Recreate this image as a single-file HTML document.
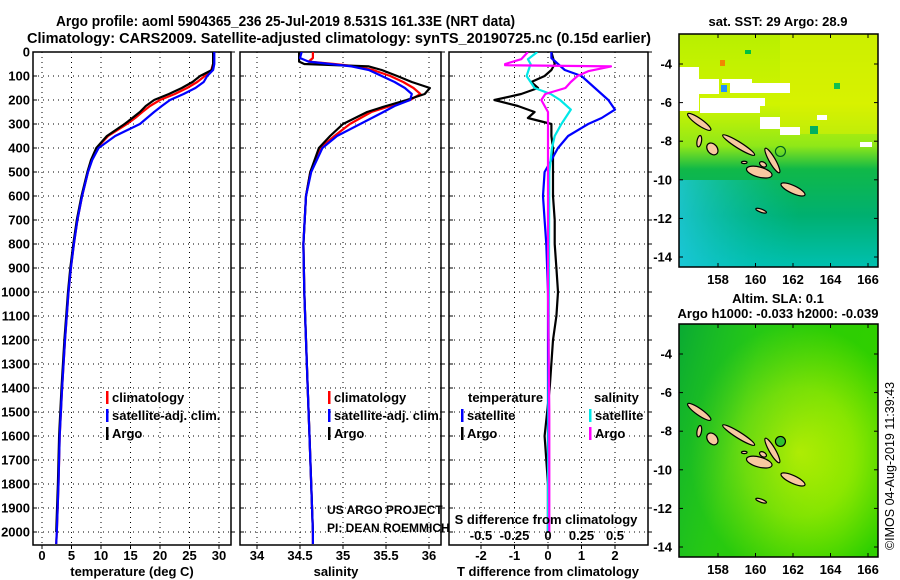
<!DOCTYPE html>
<html><head><meta charset="utf-8">
<style>
html,body{margin:0;padding:0;background:#fff;}
svg{display:block;font-family:"Liberation Sans",Arial,sans-serif;}
.t{font-weight:bold;font-size:14.5px;}
.lab{font-weight:bold;font-size:13px;}
</style></head>
<body>
<svg id="chart" width="900" height="580" viewBox="0 0 900 580" xmlns="http://www.w3.org/2000/svg">
<defs>
<linearGradient id="sstg" x1="0" y1="0" x2="0" y2="1">
<stop offset="0" stop-color="#b8f000"/><stop offset="0.3" stop-color="#d0f400"/><stop offset="0.48" stop-color="#90e818"/>
<stop offset="0.58" stop-color="#10b848"/><stop offset="0.78" stop-color="#00b070"/><stop offset="1" stop-color="#00c0b0"/>
</linearGradient>
<linearGradient id="sstcyan" x1="1" y1="0" x2="0" y2="0">
<stop offset="0" stop-color="#00c0b0" stop-opacity="0"/><stop offset="1" stop-color="#20c8e0" stop-opacity="0.8"/>
</linearGradient>
<radialGradient id="slag" cx="0.6" cy="0.55" r="0.55">
<stop offset="0" stop-color="#c8f400"/><stop offset="0.5" stop-color="#8ee800"/><stop offset="1" stop-color="#30d000"/>
</radialGradient>
<linearGradient id="sladark" x1="0" y1="0" x2="1" y2="0.3">
<stop offset="0" stop-color="#00a040" stop-opacity="0.8"/><stop offset="0.4" stop-color="#10b840" stop-opacity="0.3"/><stop offset="1" stop-color="#20c000" stop-opacity="0"/>
</linearGradient>
<clipPath id="clip1"><rect x="33" y="52" width="198" height="493"/></clipPath>
<clipPath id="clip2"><rect x="240" y="52" width="201" height="493"/></clipPath>
<clipPath id="clip3"><rect x="449" y="52" width="199" height="493"/></clipPath>
<clipPath id="clipm1"><rect x="679" y="34" width="199" height="233"/></clipPath>
<clipPath id="clipm2"><rect x="679" y="324" width="199" height="233"/></clipPath>
</defs>
<text class="t" x="56" y="26" textLength="459" lengthAdjust="spacingAndGlyphs">Argo profile: aoml 5904365_236 25-Jul-2019 8.531S 161.33E (NRT data)</text>
<text class="t" x="27" y="43" textLength="624" lengthAdjust="spacingAndGlyphs">Climatology: CARS2009. Satellite-adjusted climatology: synTS_20190725.nc (0.15d earlier)</text>
<g id="g"></g>
</svg>
<script>
// ---- data ----
const tDepth = [0,50,75,100,125,150,175,200,225,250,275,300,350,400,450,500,600,700,800,900,1000,1200,1400,1600,1800,2000,2050];
const tClim = [29,29,28.7,27.6,26.3,24.6,22.5,20,18.3,17,15.8,14.4,11.2,9.3,8.4,7.8,6.8,6,5.4,4.9,4.5,3.9,3.4,3.0,2.8,2.5,2.4];
const tSat  = [29.2,29.2,29,28,27.4,26,24,21.7,20.3,19,17.8,16.6,12.4,9.6,8.5,7.8,6.8,6,5.4,4.9,4.5,3.9,3.4,3.0,2.8,2.5,2.4];
const tArgoDepth = [0,50,75,100,125,150,175,200,225,250,275,300,350,400,450,500,600,700,800,900,1000,1200,1400,1600,1800,2000];
const tArgo = [29,29,28.8,26.8,25.5,23.7,21.5,19,17.6,16.6,15.3,14,11,9.2,8.3,7.7,6.7,5.9,5.3,4.8,4.4,3.8,3.3,2.9,2.7,2.4];
const sDepth = [0,25,40,50,60,75,100,125,150,175,200,225,250,300,350,400,500,600,800,1000,1200,1400,1600,1800,2000,2050];
const sClim = [34.65,34.65,34.6,34.9,35.15,35.35,35.55,35.7,35.82,35.9,35.78,35.55,35.33,35.08,34.9,34.74,34.62,34.57,34.54,34.55,34.57,34.59,34.61,34.63,34.65,34.65];
const sSat  = [34.52,34.5,34.6,34.85,35.1,35.3,35.45,35.6,35.72,35.8,35.78,35.6,35.47,35.2,34.93,34.76,34.63,34.57,34.54,34.55,34.57,34.59,34.61,34.63,34.65,34.65];
const sArgoDepth = [0,25,40,50,60,75,100,125,150,175,200,225,250,300,350,400,500,600,800,1000,1200,1400,1600,1800,2000];
const sArgo = [34.49,34.49,34.49,34.55,35.3,35.45,35.63,35.8,36.01,35.95,35.74,35.5,35.28,35.0,34.85,34.72,34.62,34.57,34.54,34.55,34.57,34.59,34.61,34.63,34.65];
const dtSatDepth = [0,25,50,75,100,125,150,175,200,240,275,300,350,400,450,500,600,700,800,1000,1500,2000];
const dtSat = [0.1,0.1,0.3,0.5,1.0,1.2,1.4,1.6,1.8,2.0,1.6,1.2,0.6,0.3,0.1,-0.1,-0.15,-0.1,-0.05,0,0,0];
const dtArgoDepth = [0,50,75,100,125,150,175,200,225,250,275,300,350,400,500,600,700,800,900,1000,1100,1200,1400,1600,1800,2000];
const dtArgo = [0.1,0.2,0.1,-0.1,-0.5,-0.3,-0.8,-1.6,-0.9,-0.4,-0.6,0.1,0.1,0.15,0.15,0.15,0.2,0.2,0.25,0.3,0.25,0.15,0.05,-0.1,0.0,0.0];
const dsArgoDepth = [0,30,50,55,60,80,100,125,150,175,200,250,300,400,600,1000,1500,2000];
const dsArgo = [-0.15,-0.2,-0.32,-0.32,0.47,0.3,0.22,0.17,0.13,-0.02,-0.05,0,0,0,0,0,0.01,0.01];
const dsSatDepth = [0,30,50,100,150,175,200,240,300,350,400,500,2000];
const dsSat = [-0.08,-0.15,-0.13,-0.16,-0.1,0.02,0.09,0.17,0.1,0.05,0.03,0.01,0];
const depthTicks = [0,100,200,300,400,500,600,700,800,900,1000,1100,1200,1300,1400,1500,1600,1700,1800,1900,2000];
const tempTicks = [0,5,10,15,20,25,30];
const salTicks = [34,34.5,35,35.5,36];
const salTickLabels = ["34","34.5","35","35.5","36"];
const dtTicks = [-2,-1,0,1,2];
const dsTicks = [-0.5,-0.25,0,0.25,0.5];
const dsTickLabels = ["-0.5","-0.25","0","0.25","0.5"];
const lonTicks = [158,160,162,164,166];
const latTicks = [-4,-6,-8,-10,-12,-14];

// ---- scales ----
const NS="http://www.w3.org/2000/svg";
const g=document.getElementById('g');
const yD=d=>52+d*0.24;
const xT=v=>42+v*5.9;
const xS=v=>257+(v-34)*86;
const xDT=v=>548+v*33.5;
const xDS=v=>548+v*134;
function mk(tag,attrs,parent){const e=document.createElementNS(NS,tag);for(const k in attrs)e.setAttribute(k,attrs[k]);(parent||g).appendChild(e);return e;}
function txt(x,y,s,cls,anchor,parent){const e=mk('text',{x:x,y:y,class:cls||'lab','text-anchor':anchor||'middle'},parent);e.textContent=s;return e;}
function line(xs,ds,xf,color,name,clip){
  let d='';for(let i=0;i<xs.length;i++){d+=(i?'L':'M')+xf(xs[i]).toFixed(1)+','+yD(ds[i]).toFixed(1);}
  const p=mk('path',{d:d,fill:'none',stroke:color,'stroke-width':2.2,'stroke-linejoin':'round','clip-path':'url(#'+clip+')'});
  
  
}
const panels=[{x0:33,x1:231,clip:'clip1'},{x0:240,x1:441,clip:'clip2'},{x0:449,x1:648,clip:'clip3'}];
panels.forEach((p,i)=>{
  const fr=mk('rect',{x:p.x0,y:52,width:p.x1-p.x0,height:493,fill:'#fff',stroke:'#000','stroke-width':1.5});
  
  
  depthTicks.forEach(d=>{
    const gl=mk('line',{x1:p.x0,x2:p.x1,y1:yD(d),y2:yD(d),stroke:'#000','stroke-width':1,'stroke-dasharray':'1,4'});
    
    
    mk('line',{x1:p.x0,x2:p.x0+4,y1:yD(d),y2:yD(d),stroke:'#000'});
    mk('line',{x1:p.x1,x2:p.x1+4,y1:yD(d),y2:yD(d),stroke:'#000'});
  });
});
depthTicks.forEach(d=>{
  const t=txt(30,yD(d)+4.5,String(d),'lab','end');
  
  
});
function xaxis(ticks,labels,xf,x0,x1,title,tx){
  ticks.forEach((v,i)=>{
    const gl=mk('line',{x1:xf(v),x2:xf(v),y1:52,y2:545,stroke:'#000','stroke-width':1,'stroke-dasharray':'1,4'});
    
    
    mk('line',{x1:xf(v),x2:xf(v),y1:545,y2:549,stroke:'#000'});
    const t=txt(xf(v),560,labels[i]);
    
    
  });
  const tt=txt(tx,576,title);
  
  
}
xaxis(tempTicks,tempTicks.map(String),xT,33,231,'temperature (deg C)',132);
xaxis(salTicks,salTickLabels,xS,240,441,'salinity',336);
xaxis(dtTicks,dtTicks.map(String),xDT,449,648,'T difference from climatology',548);

line(tClim,tDepth,xT,'#ff0000','temp-climatology-line','clip1');
line(tArgo,tArgoDepth,xT,'#000000','temp-argo-line','clip1');
line(tSat,tDepth,xT,'#0000ff','temp-satellite-line','clip1');
line(sClim,sDepth,xS,'#ff0000','sal-climatology-line','clip2');
line(sArgo,sArgoDepth,xS,'#000000','sal-argo-line','clip2');
line(sSat,sDepth,xS,'#0000ff','sal-satellite-line','clip2');
line(dtArgo,dtArgoDepth,xDT,'#000000','tdiff-argo-line','clip3');
line(dtSat,dtSatDepth,xDT,'#0000ff','tdiff-satellite-line','clip3');
line(dsSat,dsSatDepth,xDS,'#00e8e8','sdiff-satellite-line','clip3');
line(dsArgo,dsArgoDepth,xDS,'#ff00ff','sdiff-argo-line','clip3');

function legend(x,y,items){
  items.forEach((it,i)=>{
    const yy=y+i*18;
    mk('rect',{x:x,y:yy-11,width:2.5,height:13,fill:it[1]});
    const t=txt(x+6,yy,it[0],'lab','start');
    
    
  });
}
legend(106,402,[['climatology','#ff0000'],['satellite-adj. clim.','#0000ff'],['Argo','#000']]);
legend(328,402,[['climatology','#ff0000'],['satellite-adj. clim.','#0000ff'],['Argo','#000']]);
const lt=txt(468,402,'temperature','lab','start');


legend(461,420,[['satellite','#0000ff'],['Argo','#000']]);
const ls=txt(594,402,'salinity','lab','start');


legend(589,420,[['satellite','#00e8e8'],['Argo','#ff00ff']]);
const sd=txt(546,524,'S difference from climatology');


dsTicks.forEach((v,i)=>{
  const t=txt(xDS(v),540,dsTickLabels[i]);
  
  
});
const c1=txt(327,514,'US ARGO PROJECT','', 'start');c1.setAttribute('style','font-size:12px');


const c2=txt(327,532,'PI: DEAN ROEMMICH','', 'start');c2.setAttribute('style','font-size:12px');



// ---- maps ----
const lonX=lon=>718+(lon-158)*18.75;
function latY(lat,off){return 64+off+(-4-lat)*19.3;}
const islands=[[157.0,-7.0,0.75,0.17,35],[159.1,-8.2,1.0,0.16,32],[157.7,-8.4,0.35,0.25,50],[157.0,-8.0,0.12,0.3,10],
  [160.9,-9.0,0.75,0.16,60],[160.2,-9.6,0.7,0.26,15],[162.0,-10.5,0.7,0.2,25],[160.3,-11.6,0.3,0.08,20],[159.4,-9.1,0.15,0.06,0],[160.4,-9.2,0.2,0.12,30]];
function map(off,clip,name,isSST){
  const grp=mk('g',{'clip-path':'url(#'+clip+')'});
  
  
  if(isSST){
    mk('rect',{x:679,y:34+off,width:199,height:233,fill:'url(#sstg)'},grp);
    mk('rect',{x:679,y:180+off,width:120,height:87,fill:'url(#sstcyan)'},grp);
    mk('rect',{x:780,y:34,width:98,height:100,fill:'#e0f000',opacity:0.5},grp);
    [[679,67,20,44],[699,79,20,15],[722,79,30,4],[730,83,60,10],[700,98,60,15],[750,98,15,8],[780,127,20,8],[760,117,20,12],[817,115,10,5],[860,142,12,5]].forEach(r=>{
      mk('rect',{x:r[0],y:r[1],width:r[2],height:r[3],fill:'#fff'},grp);});
    [[720,60,5,6,'#f08800'],[721,85,6,7,'#2090ff'],[745,50,6,4,'#00c040'],[810,126,8,8,'#00b060'],[834,83,6,6,'#10c050']].forEach(r=>{
      mk('rect',{x:r[0],y:r[1],width:r[2],height:r[3],fill:r[4]},grp);});
  } else {
    mk('rect',{x:679,y:34+off,width:199,height:233,fill:'url(#slag)'},grp);
    mk('rect',{x:679,y:34+off,width:199,height:233,fill:'url(#sladark)'},grp);
  }
  islands.forEach(a=>{
    mk('ellipse',{cx:lonX(a[0]),cy:latY(a[1],off),rx:a[2]*18.75,ry:a[3]*19.3,fill:'#f8c8a0',stroke:'#000','stroke-width':1.2,
      transform:'rotate('+a[4]+' '+lonX(a[0])+' '+latY(a[1],off)+')'},grp);
  });
  const m=mk('circle',{cx:lonX(161.33),cy:latY(-8.53,off),r:5,fill:isSST?'none':'#30c030',stroke:isSST?'#006020':'#000','stroke-width':1.2},grp);
  
  
  const fr=mk('rect',{x:679,y:34+off,width:199,height:233,fill:'none',stroke:'#000','stroke-width':1.5});
  
  
  lonTicks.forEach(v=>{
    mk('line',{x1:lonX(v),x2:lonX(v),y1:34+off,y2:38+off,stroke:'#000'});
    mk('line',{x1:lonX(v),x2:lonX(v),y1:263+off,y2:267+off,stroke:'#000'});
    const t=txt(lonX(v),284+off,String(v));
    
    
  });
  latTicks.forEach(v=>{
    mk('line',{x1:679,x2:683,y1:latY(v,off),y2:latY(v,off),stroke:'#000'});
    mk('line',{x1:874,x2:878,y1:latY(v,off),y2:latY(v,off),stroke:'#000'});
    const t=txt(672,latY(v,off)+4.5,String(v),'lab','end');
    
    
  });
}
map(0,'clipm1','sst-map',true);
map(290,'clipm2','sla-map',false);
const mt1=txt(778,26,'sat. SST: 29 Argo: 28.9');


const mt2=txt(778,303,'Altim. SLA: 0.1');


const mt3=txt(778,318,'Argo h1000: -0.033 h2000: -0.039');


const cr=mk('text',{x:0,y:0,class:'lab','text-anchor':'middle',transform:'translate(894,466) rotate(-90)'});
cr.textContent='©IMOS 04-Aug-2019 11:39:43';
cr.setAttribute('style','font-weight:normal;font-size:12.5px');


</script>
</body></html>
